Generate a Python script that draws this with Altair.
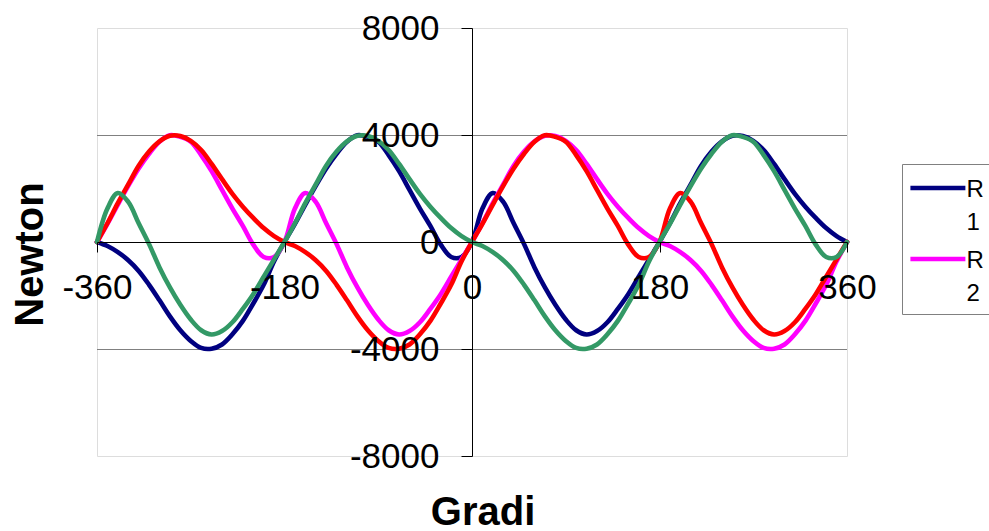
import altair as alt
import pandas as pd

FONT = "Liberation Sans"

degrees = list(range(-360, 361, 10))
series_names = ["R1", "R2", "R3", "R4"]
series_colors = ["#000080", "#FF00FF", "#FF0000", "#339966"]
legend_values = ["R1", "R2"]
x_ticks = [-360, -180, 0, 180, 360]
y_ticks = [-8000, -4000, 0, 4000, 8000]
grid_values = [-4000, 4000]

# R1 (navy)
r1 = [0, -150, -380, -680, -1080, -1600, -2180, -2780, -3300, -3700, -3960, -3990, -3830, -3450, -2950, -2300, -1600, -720, 0,
      680, 1400, 2100, 2750, 3300, 3750, 3990, 3930, 3750, 3250, 2650, 1950, 1250, 600, -100, -560, -560, 0,
      1250, 1830, 1500, 700, -80, -950, -1700, -2350, -2900, -3300, -3460, -3330, -3000, -2500, -1950, -1300, -650, 0,
      700, 1450, 2150, 2850, 3380, 3760, 3970, 3960, 3780, 3440, 2920, 2350, 1800, 1320, 900, 520, 220, 0]
# R2 (magenta)
r2 = [0, 680, 1400, 2100, 2750, 3300, 3750, 3990, 3930, 3750, 3250, 2650, 1950, 1250, 600, -100, -560, -560, 0,
      1250, 1830, 1500, 700, -80, -950, -1700, -2350, -2900, -3300, -3460, -3330, -3000, -2500, -1950, -1300, -650, 0,
      700, 1450, 2150, 2850, 3380, 3760, 3970, 3960, 3780, 3440, 2920, 2350, 1800, 1320, 900, 520, 220, 0,
      -150, -380, -680, -1080, -1600, -2180, -2780, -3300, -3700, -3960, -3990, -3830, -3450, -2950, -2300, -1600, -720, 0]
# R3 (red)
r3 = [0, 700, 1450, 2150, 2850, 3380, 3760, 3970, 3960, 3780, 3440, 2920, 2350, 1800, 1320, 900, 520, 220, 0,
      -150, -380, -680, -1080, -1600, -2180, -2780, -3300, -3700, -3960, -3990, -3830, -3450, -2950, -2300, -1600, -720, 0,
      680, 1400, 2100, 2750, 3300, 3750, 3990, 3930, 3750, 3250, 2650, 1950, 1250, 600, -100, -560, -560, 0,
      1250, 1830, 1500, 700, -80, -950, -1700, -2350, -2900, -3300, -3460, -3330, -3000, -2500, -1950, -1300, -650, 0]
# R4 (green)
r4 = [0, 1250, 1830, 1500, 700, -80, -950, -1700, -2350, -2900, -3300, -3460, -3330, -3000, -2500, -1950, -1300, -650, 0,
      700, 1450, 2150, 2850, 3380, 3760, 3970, 3960, 3780, 3440, 2920, 2350, 1800, 1320, 900, 520, 220, 0,
      -150, -380, -680, -1080, -1600, -2180, -2780, -3300, -3700, -3960, -3990, -3830, -3450, -2950, -2300, -1600, -720, 0,
      680, 1400, 2100, 2750, 3300, 3750, 3990, 3930, 3750, 3250, 2650, 1950, 1250, 600, -100, -560, -560, 0]

rows = []
for name, vals in zip(series_names, [r1, r2, r3, r4]):
    for d, v in zip(degrees, vals):
        rows.append({"Gradi": d, "Newton": v, "Serie": name})
df = pd.DataFrame(rows)

xscale = alt.Scale(domain=[x_ticks[0], x_ticks[-1]], nice=False, zero=False)
yscale = alt.Scale(domain=[y_ticks[0], y_ticks[-1]], nice=False, zero=False)

yaxis = alt.Axis(
    values=y_ticks, orient="left", offset=-375, grid=False, zindex=1,
    domainColor="black", domainWidth=1, tickColor="black", tickSize=11, tickWidth=1,
    labelPadding=22, labelFontSize=35, labelFont=FONT, labelColor="black",
    labelFlush=False, labelOverlap=False, labelBound=False,
    labelExpr="'' + datum.value",
    title="Newton", titleFont=FONT, titleFontSize=40, titleFontWeight="bold",
    titleColor="black", titleAngle=270, titleAlign="center", titleBaseline="middle",
    titleX=-442, titleY=226,
)
xaxis = alt.Axis(
    values=x_ticks, orient="bottom", offset=-214, grid=False, zindex=1,
    domainColor="black", domainWidth=1, tickColor="black", tickSize=10, tickWidth=1,
    labelPadding=18, labelFontSize=35, labelFont=FONT, labelColor="black",
    labelFlush=False, labelOverlap=False, labelBound=False,
    labelExpr="'' + datum.value",
    title="Gradi", titleFont=FONT, titleFontSize=40, titleFontWeight="bold",
    titleColor="black", titleAngle=0, titleAlign="center", titleBaseline="alphabetic",
    titleX=385.5, titleY=282,
)

legend = alt.Legend(
    orient="none", legendX=805, legendY=136, title=None, values=legend_values,
    labelExpr="[substring(datum.label, 0, 1), substring(datum.label, 1)]",
    labelFont=FONT, labelFontSize=24, labelColor="black", labelBaseline="alphabetic",
    labelOffset=4, symbolType="M-1.258,-0.394L1.258,-0.394", symbolSize=1910,
    symbolOffset=3.4, symbolStrokeWidth=4.5,
    strokeColor="#808080", fillColor="white", padding=8, rowPadding=8,
)

grid = alt.Chart(pd.DataFrame({"g": grid_values})).mark_rule(
    color="#808080", strokeWidth=1, yOffset=0.5
).encode(
    y=alt.Y("g:Q", scale=yscale, axis=yaxis)
)

lines = alt.Chart(df).mark_line(
    strokeWidth=4.6, interpolate="catmull-rom", strokeCap="round", strokeJoin="round"
).encode(
    x=alt.X("Gradi:Q", scale=xscale, axis=xaxis),
    y=alt.Y("Newton:Q", scale=yscale, axis=yaxis),
    color=alt.Color("Serie:N", scale=alt.Scale(domain=series_names, range=series_colors), legend=legend),
)

chart = alt.layer(grid, lines).properties(
    width=750, height=428,
    autosize=alt.AutoSizeParams(type="none"),
    padding={"left": 97, "top": 28, "right": 142, "bottom": 75},
).configure_view(
    stroke="#808080", strokeWidth=1
).configure(
    background="white",
    style={"guide-label": {"lineHeight": 33}},
)

chart.save("out.html", embed_options={"renderer": "svg", "actions": False})
